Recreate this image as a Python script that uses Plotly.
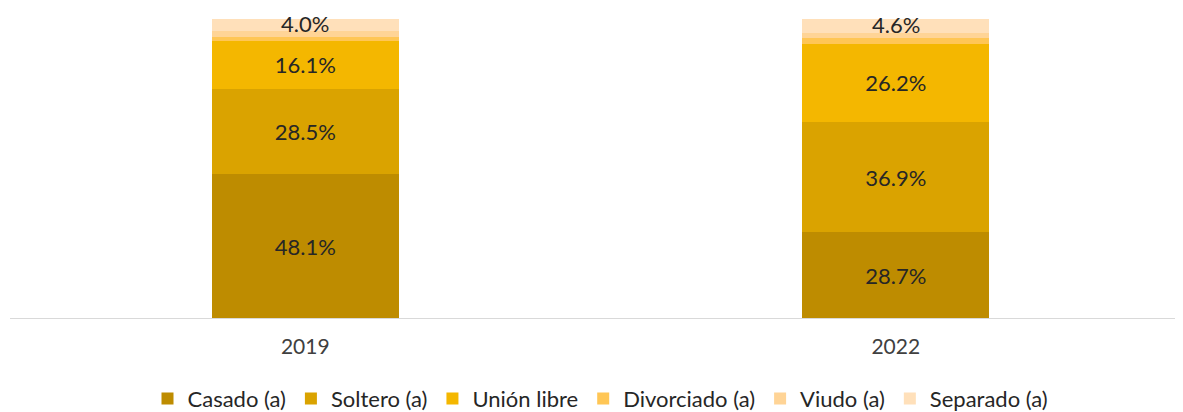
import plotly.graph_objects as go

years = ['2019', '2022']
categories = ['Casado (a)', 'Soltero (a)', 'Unión libre', 'Divorciado (a)', 'Viudo (a)', 'Separado (a)']
casado = [48.1, 28.7]
soltero = [28.5, 36.9]
union_libre = [16.1, 26.2]
divorciado = [1.3, 2.0]
viudo = [2.0, 1.6]
separado = [4.0, 4.6]

series = [casado, soltero, union_libre, divorciado, viudo, separado]
colors = ['#BE8C00', '#DAA300', '#F4B700', '#FFC655', '#FFD496', '#FFE0BA']
show_text = [True, True, True, False, False, False]

fig = go.Figure()
for name, vals, col, st in zip(categories, series, colors, show_text):
    fig.add_trace(go.Bar(
        x=years, y=vals, name=name,
        marker=dict(color=col, line=dict(width=0)),
        text=[f'{v:.1f}%' for v in vals] if st else None,
        textposition='inside' if st else 'none',
        insidetextanchor='middle',
        textfont=dict(size=22, color='#262626'),
        width=0.316,
    ))

# small top segment label, placed at its centre (x given as category index)
for i, yr in enumerate(years):
    base = sum(s[i] for s in series[:-1])
    fig.add_annotation(x=i, y=base + separado[i] / 2, text=f'{separado[i]:.1f}%',
                       showarrow=False, font=dict(size=22, color='#262626'), yshift=1)

fig.update_layout(
    barmode='stack',
    width=1183, height=412,
    margin=dict(l=2, r=0, t=11, b=102),
    paper_bgcolor='white', plot_bgcolor='white',
    font=dict(family='Lato, Open Sans, sans-serif', color='#404040'),
    showlegend=True,
    legend=dict(orientation='h', x=0.5, xanchor='center', y=-0.2, yanchor='top',
                font=dict(size=22, color='#262626'), traceorder='normal',
                itemwidth=30),
)
fig.update_xaxes(type='category', range=[-0.5, 1.5], showline=True, linecolor='#D9D9D9',
                 linewidth=1, ticks='', ticklabelstandoff=10,
                 tickfont=dict(size=21, color='#404040'), showgrid=False)
fig.update_yaxes(visible=False, range=[0, 100], showgrid=False, zeroline=False)

fig.write_html('out.html')
